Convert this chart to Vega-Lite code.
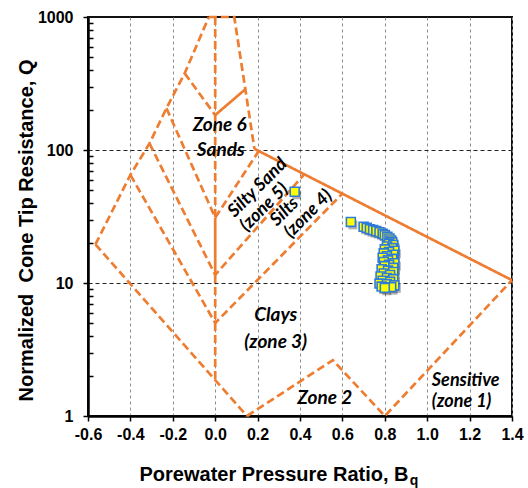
{
  "$schema": "https://vega.github.io/schema/vega-lite/v6.json",
  "width": 424,
  "height": 399,
  "autosize": "none",
  "padding": {"left": 88, "top": 17, "right": 16, "bottom": 72},
  "background": "white",
  "config": {
    "view": {"stroke": "#111111", "strokeWidth": 2}
  },
  "datasets": {
    "boundaries": [
      {"seg": "A", "i": 1, "bq": -0.565, "q": 19.5, "style": "dash"},
      {"seg": "A", "i": 2, "bq": -0.4, "q": 65, "style": "dash"},
      {"seg": "A", "i": 3, "bq": -0.31, "q": 112, "style": "dash"},
      {"seg": "A", "i": 4, "bq": -0.23, "q": 206, "style": "dash"},
      {"seg": "A", "i": 5, "bq": -0.144, "q": 377, "style": "dash"},
      {"seg": "A", "i": 6, "bq": -0.03, "q": 1000, "style": "dash"},
      {"seg": "B", "i": 1, "bq": -0.03, "q": 1000, "style": "dash"},
      {"seg": "B", "i": 2, "bq": 0.09, "q": 1000, "style": "dash"},
      {"seg": "B", "i": 3, "bq": 0.185, "q": 102, "style": "dash"},
      {"seg": "C", "i": 1, "bq": 0.185, "q": 102, "style": "solid"},
      {"seg": "C", "i": 2, "bq": 1.4, "q": 10.5, "style": "solid"},
      {"seg": "D", "i": 1, "bq": -0.565, "q": 19.5, "style": "dash"},
      {"seg": "D", "i": 2, "bq": 0.15, "q": 1, "style": "dash"},
      {"seg": "E", "i": 1, "bq": 0, "q": 1000, "style": "dash"},
      {"seg": "E", "i": 2, "bq": 0, "q": 31, "style": "dash"},
      {"seg": "F", "i": 1, "bq": 0, "q": 31, "style": "solid"},
      {"seg": "F", "i": 2, "bq": 0, "q": 11.5, "style": "solid"},
      {"seg": "G", "i": 1, "bq": 0, "q": 11.5, "style": "dash"},
      {"seg": "G", "i": 2, "bq": 0, "q": 1.87, "style": "dash"},
      {"seg": "H", "i": 1, "bq": -0.144, "q": 377, "style": "dash"},
      {"seg": "H", "i": 2, "bq": 0, "q": 183, "style": "dash"},
      {"seg": "I", "i": 1, "bq": 0, "q": 183, "style": "solid"},
      {"seg": "I", "i": 2, "bq": 0.143, "q": 287, "style": "solid"},
      {"seg": "J", "i": 1, "bq": -0.23, "q": 206, "style": "dash"},
      {"seg": "J", "i": 2, "bq": 0, "q": 31, "style": "dash"},
      {"seg": "J", "i": 3, "bq": 0.205, "q": 98, "style": "dash"},
      {"seg": "K", "i": 1, "bq": -0.31, "q": 112, "style": "dash"},
      {"seg": "K", "i": 2, "bq": 0, "q": 11.5, "style": "dash"},
      {"seg": "K", "i": 3, "bq": 0.42, "q": 65.7, "style": "dash"},
      {"seg": "L", "i": 1, "bq": -0.4, "q": 65, "style": "dash"},
      {"seg": "L", "i": 2, "bq": 0, "q": 5, "style": "dash"},
      {"seg": "L", "i": 3, "bq": 0.6, "q": 47, "style": "dash"},
      {"seg": "M", "i": 1, "bq": 0.15, "q": 1, "style": "dash"},
      {"seg": "M", "i": 2, "bq": 0.555, "q": 2.63, "style": "dash"},
      {"seg": "M", "i": 3, "bq": 0.8, "q": 1, "style": "dash"},
      {"seg": "M", "i": 4, "bq": 1.4, "q": 10.5, "style": "dash"}
    ],
    "cpt": [
      {"bq": 0.375, "q": 48.5},
      {"bq": 0.64, "q": 28.8},
      {"bq": 0.70, "q": 26.5},
      {"bq": 0.715, "q": 26.0},
      {"bq": 0.73, "q": 25.4},
      {"bq": 0.745, "q": 25.0},
      {"bq": 0.76, "q": 24.6},
      {"bq": 0.775, "q": 24.1},
      {"bq": 0.79, "q": 23.5},
      {"bq": 0.80, "q": 22.9},
      {"bq": 0.812, "q": 22.3},
      {"bq": 0.822, "q": 21.6},
      {"bq": 0.83, "q": 20.9},
      {"bq": 0.835, "q": 20.2},
      {"bq": 0.82, "q": 19.7},
      {"bq": 0.84, "q": 19.3},
      {"bq": 0.81, "q": 18.8},
      {"bq": 0.835, "q": 18.3},
      {"bq": 0.80, "q": 17.9},
      {"bq": 0.845, "q": 17.5},
      {"bq": 0.82, "q": 17.1},
      {"bq": 0.795, "q": 16.7},
      {"bq": 0.84, "q": 16.3},
      {"bq": 0.81, "q": 15.9},
      {"bq": 0.79, "q": 15.5},
      {"bq": 0.835, "q": 15.2},
      {"bq": 0.815, "q": 14.8},
      {"bq": 0.795, "q": 14.4},
      {"bq": 0.845, "q": 14.1},
      {"bq": 0.82, "q": 13.7},
      {"bq": 0.80, "q": 13.4},
      {"bq": 0.84, "q": 13.0},
      {"bq": 0.785, "q": 12.7},
      {"bq": 0.815, "q": 12.4},
      {"bq": 0.84, "q": 12.1},
      {"bq": 0.795, "q": 11.8},
      {"bq": 0.825, "q": 11.5},
      {"bq": 0.78, "q": 11.2},
      {"bq": 0.81, "q": 10.9},
      {"bq": 0.84, "q": 10.7},
      {"bq": 0.79, "q": 10.4},
      {"bq": 0.825, "q": 10.2},
      {"bq": 0.775, "q": 9.9},
      {"bq": 0.81, "q": 9.8},
      {"bq": 0.845, "q": 9.6},
      {"bq": 0.785, "q": 9.4},
      {"bq": 0.83, "q": 9.3},
      {"bq": 0.80, "q": 9.2}
    ],
    "zoneLabels": [
      {"label": "Zone 6", "bq": 0.021, "q": 154},
      {"label": "Sands", "bq": 0.026, "q": 100},
      {"label": "Clays", "bq": 0.2855, "q": 5.74},
      {"label": "(zone 3)", "bq": 0.2855, "q": 3.6},
      {"label": "Zone 2", "bq": 0.517, "q": 1.37}
    ],
    "cornerLabels": [
      {"label": "Sensitive\n(zone 1)", "bq": 1.022, "q": 1.84}
    ],
    "tiltedLabels": [
      {"label": "Silty Sand", "bq": 0.2005, "q": 51.8},
      {"label": "(zone 5)", "bq": 0.232, "q": 37.0},
      {"label": "Silts", "bq": 0.328, "q": 34.2},
      {"label": "(zone 4)", "bq": 0.44, "q": 33.0}
    ],
    "subscript": [
      {"label": "q", "bq": 0.918, "q": 1}
    ]
  },
  "layer": [
    {
      "data": {"name": "boundaries"},
      "mark": {"type": "line", "color": "#ED7D31", "strokeWidth": 2.7, "strokeCap": "butt"},
      "encoding": {
        "x": {
          "field": "bq",
          "type": "quantitative",
          "scale": {"domain": [-0.6, 1.4], "nice": false, "zero": false},
          "axis": {
            "values": [-0.6, -0.5, -0.4, -0.3, -0.2, -0.1, 0, 0.1, 0.2, 0.3, 0.4, 0.5, 0.6, 0.7, 0.8, 0.9, 1.0, 1.1, 1.2, 1.3, 1.4],
            "labelExpr": "abs(round(datum.value * 10)) % 2 == 0 ? (datum.value < -0.001 ? '-' : '') + format(abs(datum.value), '.1f') : ''",
            "labelFlush": false,
            "labelOverlap": false,
            "labelFont": "Liberation Sans",
            "labelFontWeight": "bold",
            "labelFontSize": 16,
            "labelColor": "#000000",
            "labelPadding": 5,
            "grid": true,
            "gridColor": "#8c8c8c",
            "gridDash": [3, 3],
            "gridWidth": 1,
            "gridOpacity": {"condition": {"test": "abs(round(datum.value * 10)) % 2 == 0", "value": 1}, "value": 0},
            "domainColor": "#000000",
            "domainWidth": 2.5,
            "tickColor": "#000000",
            "tickWidth": 1.5,
            "tickSize": 5,
            "title": "Porewater Pressure Ratio, B",
            "titleFont": "Liberation Sans",
            "titleFontWeight": "bold",
            "titleFontSize": 20,
            "titleColor": "#000000",
            "titleAlign": "right",
            "titleBaseline": "alphabetic",
            "titleX": 320,
            "titleY": 64
          }
        },
        "y": {
          "field": "q",
          "type": "quantitative",
          "scale": {"type": "log", "domain": [1, 1000], "nice": false},
          "axis": {
            "values": [1, 2, 3, 4, 5, 6, 7, 8, 9, 10, 20, 30, 40, 50, 60, 70, 80, 90, 100, 200, 300, 400, 500, 600, 700, 800, 900, 1000],
            "labelExpr": "datum.value == 1 || datum.value == 10 || datum.value == 100 || datum.value == 1000 ? format(datum.value, 'd') : ''",
            "labelFlush": false,
            "labelOverlap": false,
            "labelFont": "Liberation Sans",
            "labelFontWeight": "bold",
            "labelFontSize": 16,
            "labelColor": "#000000",
            "labelPadding": 10,
            "grid": true,
            "gridColor": "#222222",
            "gridDash": [4, 3],
            "gridWidth": 1,
            "gridOpacity": {"condition": {"test": "datum.value == 10 || datum.value == 100", "value": 1}, "value": 0},
            "domainColor": "#000000",
            "domainWidth": 2.5,
            "tickColor": "#000000",
            "tickWidth": 1.5,
            "tickSize": {"condition": {"test": "datum.value == 1 || datum.value == 10 || datum.value == 100 || datum.value == 1000", "value": 5}, "value": -5},
            "title": "Normalized\u00a0 Cone Tip Resistance, Q",
            "titleFont": "Liberation Sans",
            "titleFontWeight": "bold",
            "titleFontSize": 20,
            "titleColor": "#000000",
            "titleAngle": -90,
            "titleAlign": "center",
            "titleBaseline": "alphabetic",
            "titleX": -56,
            "titleY": 213
          }
        },
        "detail": {"field": "seg"},
        "order": {"field": "i", "type": "quantitative"},
        "strokeDash": {
          "field": "style",
          "type": "nominal",
          "scale": {"domain": ["dash", "solid"], "range": [[8, 4], [1, 0]]},
          "legend": null
        }
      }
    },
    {
      "data": {"name": "cpt"},
      "mark": {"type": "square", "size": 80, "filled": true, "color": "#000000", "opacity": 0.3, "xOffset": 2, "yOffset": 3},
      "encoding": {
        "x": {"field": "bq", "type": "quantitative"},
        "y": {"field": "q", "type": "quantitative"}
      }
    },
    {
      "data": {"name": "cpt"},
      "mark": {"type": "square", "size": 80, "filled": true, "fill": "#FFFF00", "stroke": "#2F7BD8", "strokeWidth": 1.6, "opacity": 1},
      "encoding": {
        "x": {"field": "bq", "type": "quantitative"},
        "y": {"field": "q", "type": "quantitative"}
      }
    },
    {
      "data": {"name": "zoneLabels"},
      "mark": {"type": "text", "font": "Lato", "fontStyle": "italic", "fontWeight": "bold", "fontSize": 19, "color": "#000000", "align": "center", "baseline": "middle"},
      "encoding": {
        "x": {"field": "bq", "type": "quantitative"},
        "y": {"field": "q", "type": "quantitative"},
        "text": {"field": "label"}
      }
    },
    {
      "data": {"name": "cornerLabels"},
      "mark": {"type": "text", "font": "Lato", "fontStyle": "italic", "fontWeight": "bold", "fontSize": 18, "lineHeight": 21, "lineBreak": "\n", "color": "#000000", "align": "left", "baseline": "middle"},
      "encoding": {
        "x": {"field": "bq", "type": "quantitative"},
        "y": {"field": "q", "type": "quantitative"},
        "text": {"field": "label"}
      }
    },
    {
      "data": {"name": "tiltedLabels"},
      "mark": {"type": "text", "font": "Lato", "fontStyle": "italic", "fontWeight": "bold", "fontSize": 18, "color": "#000000", "align": "center", "baseline": "middle", "angle": 315},
      "encoding": {
        "x": {"field": "bq", "type": "quantitative"},
        "y": {"field": "q", "type": "quantitative"},
        "text": {"field": "label"}
      }
    },
    {
      "data": {"name": "subscript"},
      "mark": {"type": "text", "font": "Liberation Sans", "fontWeight": "bold", "fontSize": 14, "color": "#000000", "align": "left", "baseline": "alphabetic", "dy": 69},
      "encoding": {
        "x": {"field": "bq", "type": "quantitative"},
        "y": {"field": "q", "type": "quantitative"},
        "text": {"field": "label"}
      }
    }
  ]
}
